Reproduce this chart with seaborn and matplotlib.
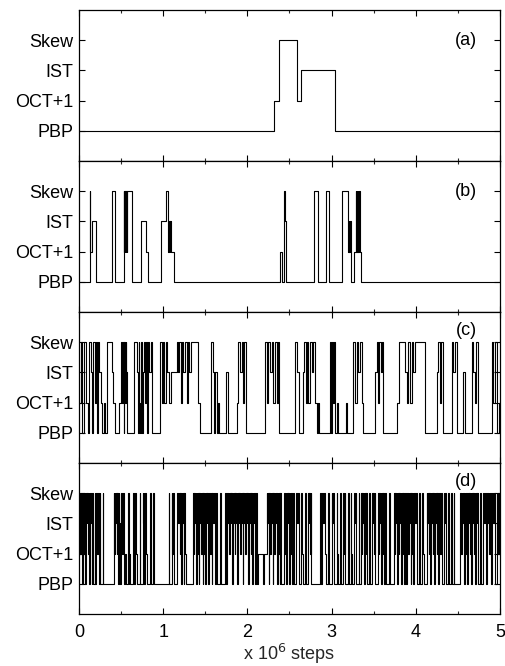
import matplotlib
matplotlib.use("Agg")
import matplotlib.pyplot as plt
import seaborn as sns
import pandas as pd
from matplotlib.ticker import MultipleLocator

sns.set_theme(style="white")
plt.rcParams['font.family'] = ['Liberation Sans', 'DejaVu Sans']

state_labels = ["PBP", "OCT+1", "IST", "Skew"]
panel_tags = ["(a)", "(b)", "(c)", "(d)"]
x_max = 5.0

# (time in 10^6 steps, state index) change points
a_changes = [(0.00, 0), (2.32, 1), (2.37, 3), (2.59, 1), (2.64, 2), (3.04, 0)]

b_changes = [(0.00, 0), (0.13, 3), (0.135, 1), (0.16, 2), (0.20, 0), (0.39, 2), (0.395, 3),
             (0.43, 0), (0.53, 3), (0.535, 1), (0.54, 3), (0.545, 1), (0.55, 3), (0.555, 1),
             (0.56, 3), (0.565, 1), (0.57, 3), (0.63, 0), (0.74, 2), (0.80, 1), (0.82, 0),
             (0.97, 2), (1.03, 3), (1.06, 1), (1.065, 2), (1.07, 1), (1.075, 2), (1.08, 1),
             (1.085, 2), (1.09, 1), (1.13, 0), (2.39, 1), (2.41, 0), (2.43, 3), (2.445, 2),
             (2.455, 0), (2.79, 3), (2.84, 0), (2.93, 3), (2.97, 0), (3.12, 3), (3.20, 1),
             (3.205, 2), (3.21, 1), (3.215, 2), (3.225, 0), (3.265, 1), (3.29, 3), (3.295, 1),
             (3.30, 3), (3.305, 1), (3.31, 3), (3.315, 1), (3.32, 3), (3.34, 1), (3.35, 0)]

c_changes = [(0.000, 1), (0.020, 3), (0.036, 0), (0.059, 3), (0.083, 1), (0.107, 0), (0.123, 3),
             (0.139, 2), (0.154, 0), (0.170, 3), (0.186, 1), (0.198, 3), (0.210, 0), (0.222, 3),
             (0.241, 2), (0.257, 1), (0.273, 0), (0.297, 1), (0.309, 0), (0.337, 3), (0.388, 2),
             (0.408, 1), (0.432, 0), (0.479, 1), (0.499, 3), (0.511, 1), (0.523, 3), (0.530, 0),
             (0.538, 3), (0.546, 1), (0.554, 3), (0.562, 2), (0.574, 0), (0.653, 3), (0.685, 2),
             (0.697, 0), (0.709, 3), (0.717, 1), (0.724, 0), (0.736, 3), (0.744, 0), (0.756, 2),
             (0.768, 3), (0.784, 1), (0.796, 3), (0.812, 0), (0.823, 3), (0.835, 2), (0.851, 3),
             (0.871, 0), (0.962, 3), (0.982, 1), (1.002, 3), (1.013, 1), (1.033, 3), (1.049, 2),
             (1.073, 1), (1.097, 2), (1.160, 3), (1.180, 2), (1.192, 3), (1.207, 1), (1.219, 3),
             (1.239, 2), (1.259, 3), (1.279, 1), (1.291, 3), (1.310, 2), (1.326, 3), (1.417, 1),
             (1.437, 0), (1.568, 3), (1.588, 2), (1.603, 0), (1.619, 2), (1.635, 0), (1.647, 1),
             (1.659, 0), (1.746, 2), (1.766, 0), (1.873, 1), (1.892, 3), (1.912, 2), (1.932, 3),
             (1.944, 1), (1.960, 3), (1.983, 0), (2.209, 3), (2.229, 1), (2.249, 3), (2.268, 2),
             (2.288, 3), (2.308, 1), (2.328, 3), (2.348, 1), (2.367, 3), (2.379, 0), (2.565, 3),
             (2.593, 2), (2.609, 0), (2.656, 2), (2.672, 3), (2.692, 1), (2.704, 3), (2.724, 1),
             (2.743, 3), (2.763, 2), (2.783, 3), (2.803, 1), (2.823, 0), (2.842, 1), (2.854, 0),
             (2.981, 3), (2.993, 0), (3.005, 3), (3.021, 1), (3.033, 3), (3.044, 0), (3.060, 1),
             (3.072, 0), (3.171, 1), (3.187, 0), (3.258, 3), (3.278, 1), (3.298, 3), (3.318, 2),
             (3.337, 3), (3.357, 1), (3.369, 0), (3.515, 2), (3.535, 3), (3.555, 1), (3.567, 3),
             (3.583, 2), (3.599, 3), (3.614, 0), (3.773, 1), (3.800, 3), (3.872, 2), (3.892, 1),
             (3.911, 3), (3.931, 1), (3.951, 3), (3.971, 2), (3.991, 3), (4.109, 0), (4.248, 2),
             (4.268, 3), (4.287, 1), (4.299, 3), (4.319, 0), (4.426, 3), (4.446, 2), (4.466, 3),
             (4.485, 0), (4.565, 2), (4.584, 0), (4.664, 3), (4.683, 2), (4.703, 1), (4.715, 3),
             (4.743, 0), (4.901, 3), (4.921, 1), (4.941, 3), (4.960, 0), (4.992, 1)]

d_changes = [(0.000, 1), (0.008, 3), (0.016, 1), (0.024, 3), (0.032, 2), (0.040, 0), (0.050, 3),
             (0.060, 1), (0.068, 3), (0.076, 0), (0.085, 3), (0.092, 2), (0.100, 3), (0.108, 1),
             (0.116, 3), (0.124, 0), (0.132, 3), (0.140, 2), (0.150, 0), (0.160, 3), (0.170, 0),
             (0.185, 3), (0.195, 0), (0.205, 3), (0.215, 1), (0.222, 3), (0.232, 0), (0.245, 3),
             (0.255, 0), (0.280, 3), (0.289, 0), (0.410, 3), (0.418, 1), (0.425, 3), (0.432, 2),
             (0.440, 3), (0.448, 1), (0.455, 3), (0.462, 0), (0.470, 3), (0.478, 2), (0.486, 0),
             (0.500, 3), (0.508, 1), (0.520, 3), (0.530, 0), (0.545, 1), (0.560, 0), (0.580, 3),
             (0.590, 0), (0.600, 1), (0.610, 0), (0.640, 3), (0.650, 0), (0.665, 3), (0.675, 1),
             (0.685, 0), (0.720, 3), (0.730, 0), (0.755, 3), (0.763, 2), (0.770, 3), (0.778, 0),
             (0.786, 3), (0.794, 1), (0.802, 0), (0.840, 3), (0.850, 0), (0.880, 3), (0.890, 0),
             (1.065, 3), (1.075, 0), (1.100, 3), (1.110, 1), (1.120, 3), (1.128, 0), (1.170, 3),
             (1.178, 2), (1.186, 3), (1.194, 1), (1.202, 3), (1.210, 0), (1.218, 3), (1.226, 2),
             (1.234, 3), (1.242, 0), (1.250, 3), (1.260, 1), (1.270, 0), (1.355, 3), (1.362, 1),
             (1.370, 3), (1.377, 2), (1.384, 3), (1.391, 0), (1.398, 3), (1.405, 1), (1.412, 3),
             (1.420, 0), (1.428, 3), (1.436, 2), (1.444, 3), (1.452, 1), (1.460, 3), (1.468, 0),
             (1.476, 3), (1.484, 1), (1.492, 3), (1.500, 0), (1.510, 3), (1.518, 2), (1.526, 3),
             (1.534, 0), (1.545, 3), (1.555, 1), (1.565, 3), (1.575, 0), (1.585, 3), (1.595, 2),
             (1.605, 3), (1.615, 0), (1.625, 3), (1.635, 0), (1.680, 3), (1.690, 0), (1.735, 3),
             (1.745, 0), (1.760, 3), (1.768, 2), (1.776, 3), (1.784, 1), (1.792, 3), (1.800, 2),
             (1.808, 3), (1.816, 0), (1.824, 3), (1.832, 2), (1.840, 3), (1.848, 1), (1.856, 3),
             (1.864, 2), (1.872, 3), (1.880, 0), (1.888, 3), (1.896, 2), (1.904, 3), (1.912, 1),
             (1.920, 3), (1.928, 2), (1.936, 3), (1.944, 0), (1.952, 3), (1.960, 2), (1.968, 3),
             (1.976, 1), (1.984, 3), (1.992, 2), (2.000, 3), (2.008, 0), (2.016, 3), (2.024, 2),
             (2.032, 3), (2.040, 1), (2.048, 3), (2.056, 0), (2.064, 3), (2.072, 2), (2.080, 3),
             (2.088, 0), (2.100, 3), (2.110, 1), (2.120, 0), (2.130, 1), (2.180, 0), (2.200, 1),
             (2.230, 3), (2.238, 2), (2.246, 3), (2.254, 0), (2.262, 3), (2.270, 1), (2.278, 3),
             (2.286, 2), (2.294, 3), (2.302, 0), (2.310, 3), (2.318, 1), (2.326, 3), (2.334, 2),
             (2.342, 3), (2.350, 0), (2.360, 3), (2.368, 1), (2.376, 3), (2.384, 0), (2.392, 3),
             (2.400, 0), (2.440, 3), (2.448, 1), (2.456, 3), (2.464, 0), (2.472, 3), (2.480, 2),
             (2.488, 3), (2.496, 0), (2.504, 3), (2.512, 1), (2.520, 3), (2.528, 0), (2.545, 3),
             (2.555, 0), (2.580, 3), (2.590, 2), (2.600, 3), (2.610, 0), (2.640, 3), (2.650, 1),
             (2.660, 0), (2.690, 3), (2.700, 0), (2.720, 3), (2.728, 2), (2.736, 3), (2.744, 1),
             (2.752, 3), (2.760, 0), (2.860, 3), (2.870, 0), (2.890, 3), (2.900, 2), (2.910, 3),
             (2.920, 1), (2.930, 0), (2.960, 3), (2.970, 0), (3.000, 3), (3.010, 2), (3.020, 3),
             (3.030, 0), (3.060, 3), (3.070, 1), (3.080, 0), (3.100, 3), (3.110, 0), (3.140, 3),
             (3.148, 1), (3.156, 3), (3.164, 0), (3.195, 3), (3.205, 0), (3.225, 3), (3.235, 1),
             (3.245, 0), (3.265, 3), (3.275, 2), (3.285, 3), (3.295, 0), (3.320, 3), (3.330, 0),
             (3.350, 3), (3.358, 1), (3.366, 3), (3.374, 2), (3.382, 3), (3.390, 0), (3.398, 3),
             (3.406, 1), (3.414, 3), (3.422, 0), (3.445, 3), (3.455, 0), (3.480, 3), (3.488, 2),
             (3.496, 3), (3.504, 1), (3.512, 3), (3.520, 0), (3.550, 3), (3.558, 1), (3.566, 3),
             (3.574, 2), (3.582, 3), (3.590, 0), (3.598, 3), (3.606, 1), (3.614, 3), (3.622, 0),
             (3.640, 3), (3.650, 0), (3.680, 3), (3.690, 1), (3.700, 0), (3.740, 3), (3.748, 1),
             (3.756, 3), (3.764, 2), (3.772, 3), (3.780, 0), (3.788, 3), (3.796, 1), (3.804, 3),
             (3.812, 2), (3.820, 3), (3.828, 0), (3.836, 3), (3.844, 1), (3.852, 3), (3.860, 0),
             (3.875, 3), (3.885, 0), (3.900, 3), (3.908, 1), (3.916, 3), (3.924, 2), (3.932, 3),
             (3.940, 0), (3.948, 3), (3.956, 1), (3.964, 3), (3.972, 0), (3.985, 3), (3.995, 2),
             (4.005, 3), (4.015, 0), (4.040, 3), (4.050, 0), (4.075, 3), (4.085, 1), (4.095, 0),
             (4.130, 3), (4.138, 2), (4.146, 3), (4.154, 1), (4.162, 3), (4.170, 0), (4.178, 3),
             (4.186, 2), (4.194, 3), (4.202, 1), (4.210, 3), (4.218, 0), (4.226, 3), (4.234, 2),
             (4.242, 3), (4.250, 1), (4.258, 3), (4.266, 0), (4.280, 3), (4.290, 1), (4.300, 3),
             (4.310, 0), (4.330, 3), (4.340, 2), (4.350, 3), (4.360, 0), (4.380, 3), (4.390, 1),
             (4.400, 0), (4.420, 3), (4.430, 0), (4.450, 3), (4.460, 0), (4.530, 3), (4.538, 1),
             (4.546, 3), (4.554, 2), (4.562, 3), (4.570, 0), (4.580, 3), (4.588, 1), (4.596, 3),
             (4.604, 0), (4.620, 3), (4.628, 2), (4.636, 3), (4.644, 1), (4.652, 3), (4.660, 0),
             (4.668, 3), (4.676, 2), (4.684, 3), (4.692, 1), (4.700, 3), (4.708, 0), (4.716, 3),
             (4.724, 2), (4.732, 3), (4.740, 0), (4.760, 3), (4.770, 1), (4.780, 0), (4.800, 3),
             (4.810, 2), (4.820, 3), (4.830, 0), (4.850, 3), (4.858, 2), (4.866, 3), (4.874, 1),
             (4.882, 3), (4.890, 0), (4.910, 3), (4.920, 2), (4.930, 3), (4.940, 0), (4.960, 3),
             (4.970, 1), (4.980, 3), (4.990, 1)]

panels = [a_changes, b_changes, c_changes, d_changes]
tag_y = [3.0, 3.0, 3.38, 3.4]
fs = 13

fig, axes = plt.subplots(4, 1, figsize=(5.05, 6.66), dpi=100, sharex=True)
fig.subplots_adjust(left=0.1564, right=0.990, top=0.985, bottom=0.078, hspace=0)

for ax, changes, tag, ty in zip(axes, panels, panel_tags, tag_y):
    t = [c[0] for c in changes] + [x_max]
    s = [c[1] for c in changes] + [changes[-1][1]]
    df = pd.DataFrame({"t": t, "s": s})
    sns.lineplot(data=df, x="t", y="s", ax=ax, color="black", linewidth=0.8,
                 drawstyle="steps-post", sort=False, estimator=None)
    ax.set_xlim(0, 5)
    ax.set_ylim(-1, 4)
    ax.set_yticks(range(len(state_labels)))
    ax.set_yticklabels(state_labels, fontsize=fs)
    ax.set_ylabel("")
    ax.set_xlabel("")
    ax.xaxis.set_major_locator(MultipleLocator(1))
    ax.xaxis.set_minor_locator(MultipleLocator(0.5))
    ax.tick_params(axis="both", which="major", direction="in", length=4, width=0.8,
                   top=True, right=True, bottom=True, left=True, labelsize=fs, colors="black")
    ax.tick_params(axis="y", which="major", pad=4)
    ax.tick_params(axis="x", which="major", pad=7)
    ax.tick_params(axis="x", which="minor", direction="in", length=2.5, width=0.8,
                   top=True, bottom=True)
    for sp in ax.spines.values():
        sp.set_color("black")
        sp.set_linewidth(0.9)
    ax.text(4.6, ty, tag, ha="center", va="center", fontsize=fs, color="black")

axes[-1].set_xticks(range(6))
axes[-1].set_xticklabels([str(i) for i in range(6)], fontsize=fs)
axes[-1].set_xlabel("x 10$^6$ steps", fontsize=fs, labelpad=1)

fig.savefig("out.png", dpi=100, facecolor="white")
